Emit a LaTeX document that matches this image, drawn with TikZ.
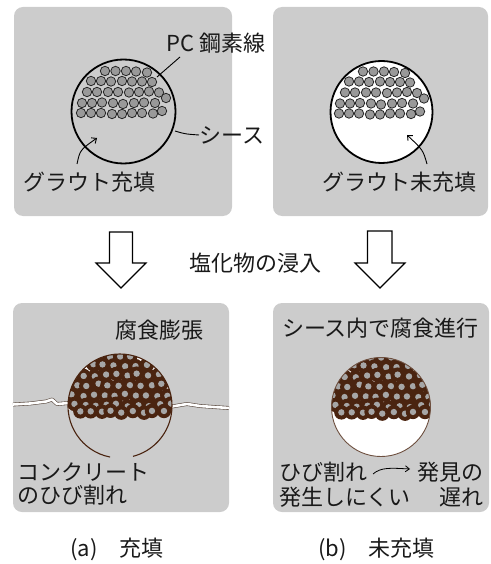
\documentclass[tikz,border=0pt]{standalone}
\usepackage{fontspec}
\setmainfont{Noto Sans CJK JP}
\usetikzlibrary{arrows.meta}
\definecolor{panelgray}{HTML}{CCCCCC}
\definecolor{rust}{HTML}{4A2410}
\definecolor{wiregray}{HTML}{999999}
\definecolor{coregray}{HTML}{A6A6A6}
\definecolor{crackedge}{HTML}{5A4A40}

% intact bundle of wires (top half of a duct)
\newcommand\wirebundle{%
  \foreach \px/\py in {105/71,115.5/71,126/71,136/71.5,147/72.5,
      91/81,101/81,111/81.5,122/81,132/81.5,142/81.5,152/82,
      87/92,97/92,108/92,118/92,129/92.5,139/92,149/91.5,159/92.5,166/98,
      82/103,92/103,102/102.5,113/103,123/104,134/103,144/102.5,155/103,
      81/113,91/113,101/113,112/114,122/114,132/113,142/113,153/113.5,162/111}
    {\draw[wire] (\px,\py) circle[radius=4.7];}}

% corroded bundle of wires (rust rings with grey cores)
\newcommand\rustbundle{%
  \pgfmathsetseed{11}%
  \foreach \py/\xa/\n in {357/109/3,365/93/6,375/84/8,385/77/9,395/72/10,405/75/10,412/80/9}
    {\foreach \k in {1,...,\n}
      {\pgfmathsetmacro\qx{\xa+10.5*(\k-1)+1.6*rand}%
       \pgfmathsetmacro\qy{\py+1.6*rand}%
       \fill[rust] (\qx,\qy) circle[radius=7.2];
       \fill[coregray] (\qx,\qy) circle[radius=3.2];}}}

\begin{document}
\begin{tikzpicture}[x=1pt,y=-1pt,
  panel/.style={fill=panelgray, rounded corners=9pt},
  lbl/.style={font=\fontsize{22}{26}\selectfont, inner sep=0pt, text=black!90},
  wire/.style={fill=wiregray, draw=black!85, line width=0.8pt},
  sheath/.style={draw=black, line width=1.8pt},
  hollow/.style={draw=black, fill=white, line width=1.2pt, line join=miter},
  leader/.style={draw=black, line width=0.9pt},
  pointer/.style={leader, -{Straight Barb[length=4pt,width=7pt]}},
  crack/.style={draw=crackedge, line width=0.6pt, double=white, double distance=2.6pt, line join=round}]
\useasboundingbox (0,0) rectangle (490,564);

% ---------- panels ----------
\fill[panel] (14,7) rectangle (232,216);
\fill[panel] (273,7) rectangle (488,216);
\fill[panel] (13,303) rectangle (229,512);
\fill[panel] (273,303) rectangle (489,512);

% ---------- (a) grouted duct ----------
\node[circle, minimum size=104pt, inner sep=0pt] (ductA) at (123.5,111.5) {};
\wirebundle
\draw[sheath] (123.5,111.5) circle[radius=52];
\node[lbl] (pcA) at (216,43) {PC 鋼素線};
\coordinate (pcTip) at (157,77);
\draw[leader] (180,57) -- (pcTip);
\node[lbl, anchor=west] (sheathA) at (199,135) {シース};
\draw[leader] (175,131) .. controls (185,134) .. (sheathA.west);
\node[lbl] (groutA) at (89.5,182) {グラウト充填};
\coordinate (groutTipA) at (97,138);
\draw[pointer] (77,164) .. controls (80,150) .. (groutTipA);

% ---------- (b) ungrouted duct ----------
\fill[white] (381.5,112) circle[radius=51];
\begin{scope}[shift={(258,0.5)}]
  \wirebundle
\end{scope}
\draw[sheath] (381.5,112) circle[radius=51];
\node[circle, minimum size=102pt, inner sep=0pt] (ductB) at (381.5,112) {};
\node[lbl] (groutB) at (399,182) {グラウト未充填};
\coordinate (groutTipB) at (407,135);
\draw[pointer] (427,164) .. controls (423,150) .. (groutTipB);

% ---------- chloride ingress ----------
\node[lbl] (chloride) at (255,263) {塩化物の浸入};
\draw[hollow] (109.5,232) -- (132.5,232) -- (132.5,263) -- (146,263) -- (121,288)
  -- (96,263) -- (109.5,263) -- cycle;
\draw[hollow] (367.5,231) -- (392,231) -- (392,263) -- (405,263) -- (380,288)
  -- (355,263) -- (367.5,263) -- cycle;

% ---------- (a) corrosion expansion ----------
\node[lbl] (expand) at (159,330) {腐食膨張};
\draw[crack] (13,404.5) -- (30,403.5) -- (46,401.5) -- (52,399.5) -- (57,404) -- (69,403);
\draw[crack] (172,406.5) -- (187,404) -- (200,406) -- (214,407) -- (229,408);
\begin{scope}
  \clip (120,406) circle[radius=52];
  \fill[white] (60,350) rectangle (180,410);
  \rustbundle
\end{scope}
\draw[rust, line width=1.1pt] (120,406) ++(101:52) arc[start angle=101, end angle=435.5, radius=52];
\node[lbl, anchor=west] (concrete) at (17,472) {コンクリート};
\node[lbl, anchor=west] (cracking) at (17,495) {のひび割れ};

% ---------- (b) corrosion inside the sheath ----------
\node[lbl] (inside) at (380.5,328) {シース内で腐食進行};
\fill[white] (381,407) circle[radius=49.5];
\begin{scope}
  \clip (381,407) circle[radius=49.5];
  \begin{scope}[shift={(261,1)}]
    \rustbundle
  \end{scope}
\end{scope}
\draw[rust!80, line width=0.9pt] (381,407) circle[radius=49.5];
\node[lbl, anchor=west] (hibi) at (279,472) {ひび割れ};
\node[lbl, anchor=east] (hakken) at (484,472) {発見の};
\node[lbl, anchor=west] (hassei) at (279,497) {発生しにくい};
\node[lbl, anchor=east] (okure) at (484,497) {遅れ};
\coordinate (leadS) at (373,474);
\coordinate (leadE) at (410,469);
\draw[leader, line width=0.8pt, -{Straight Barb[length=4pt,width=6pt]}]
  (leadS) .. controls (381,467) and (391,468) .. (leadE);

% ---------- captions ----------
\node[lbl, anchor=west] (capA) at (70,549) {(a)　充填};
\node[lbl, anchor=west] (capB) at (318,549) {(b)　未充填};
\end{tikzpicture}
\end{document}
